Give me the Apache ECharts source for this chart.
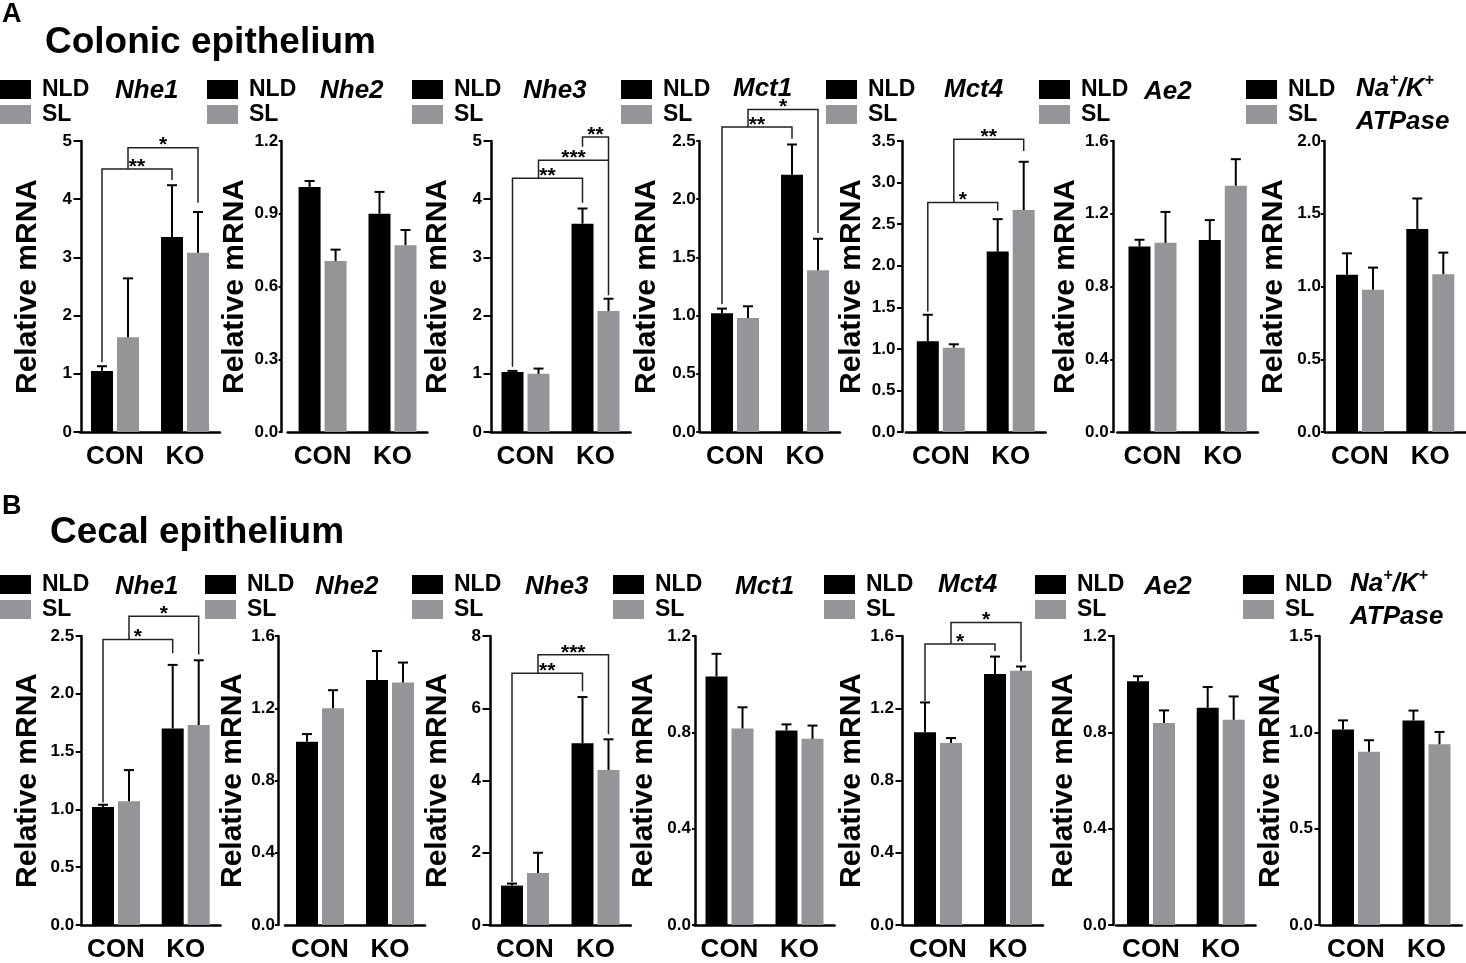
<!DOCTYPE html>
<html><head><meta charset="utf-8">
<script src="https://cdn.jsdelivr.net/npm/echarts@6/dist/echarts.min.js"></script>
<style>html,body{margin:0;padding:0;background:#fff}#c{width:1466px;height:963px}</style>
</head><body><div id="c"></div>
<script>
// ---------------- DATA ----------------
const categories = ['CON', 'KO'];
const seriesNames = ['NLD', 'SL'];
const genes = ['Nhe1', 'Nhe2', 'Nhe3', 'Mct1', 'Mct4', 'Ae2', 'Na+/K+ ATPase'];

// Colonic epithelium (panel A)
const colonicYMax  = [5, 1.2, 5, 2.5, 3.5, 1.6, 2.0];
const colonicYStep = [1, 0.3, 1, 0.5, 0.5, 0.4, 0.5];
const colonicNLD    = [[1.05, 3.35], [1.01, 0.90], [1.03, 3.58], [1.02, 2.21], [1.09, 2.17], [1.02, 1.055], [1.08, 1.395]];
const colonicNLDErr = [[0.08, 0.89], [0.025, 0.09], [0.02, 0.26], [0.04, 0.26], [0.32, 0.39], [0.037, 0.11], [0.148, 0.21]];
const colonicSL     = [[1.63, 3.08], [0.705, 0.77], [1.00, 2.08], [0.98, 1.39], [1.014, 2.67], [1.04, 1.354], [0.977, 1.085]];
const colonicSLErr  = [[1.01, 0.70], [0.047, 0.063], [0.09, 0.21], [0.10, 0.27], [0.041, 0.58], [0.17, 0.146], [0.153, 0.148]];
// significance brackets: [panel, fromBar, toBar, yTop, yLeftEnd, yRightEnd, label]; bars: 0 NLD-CON, 1 SL-CON, 2 NLD-KO, 3 SL-KO
const colonicBrackets = [
  [0, 0, 2, 4.52, 1.20, 4.33, '**'], [0, 1, 3, 4.885, 4.52, 3.94, '*'],
  [2, 0, 2, 4.36, 1.12, 3.94, '**'], [2, 1, 3, 4.67, 4.36, 2.35, '***'], [2, 2, 3, 5.07, 4.90, 4.67, '**'],
  [3, 0, 2, 2.62, 1.10, 2.52, '**'], [3, 1, 3, 2.77, 2.62, 1.71, '*'],
  [4, 0, 2, 2.76, 1.45, 2.66, '*'], [4, 1, 3, 3.52, 2.76, 3.38, '**']
];

// Cecal epithelium (panel B)
const cecalYMax  = [2.5, 1.6, 8, 1.2, 1.6, 1.2, 1.5];
const cecalYStep = [0.5, 0.4, 2, 0.4, 0.4, 0.4, 0.5];
const cecalNLD    = [[1.02, 1.70], [1.015, 1.357], [1.09, 5.03], [1.032, 0.808], [1.067, 1.389], [1.012, 0.902], [1.015, 1.062]];
const cecalNLDErr = [[0.02, 0.55], [0.042, 0.16], [0.057, 1.28], [0.094, 0.025], [0.165, 0.097], [0.021, 0.086], [0.047, 0.051]];
const cecalSL     = [[1.07, 1.73], [1.20, 1.342], [1.44, 4.29], [0.816, 0.773], [1.008, 1.407], [0.839, 0.852], [0.899, 0.938]];
const cecalSLErr  = [[0.27, 0.56], [0.10, 0.111], [0.56, 0.85], [0.088, 0.055], [0.027, 0.024], [0.052, 0.097], [0.06, 0.064]];
const cecalBrackets = [
  [0, 0, 2, 2.47, 1.06, 2.35, '*'], [0, 1, 3, 2.67, 2.47, 2.34, '*'],
  [2, 0, 2, 6.97, 1.19, 6.47, '**'], [2, 1, 3, 7.48, 6.97, 5.28, '***'],
  [4, 0, 2, 1.556, 1.24, 1.517, '*'], [4, 1, 3, 1.675, 1.556, 1.458, '*']
];

// ---------------- LAYOUT / STYLE ----------------
const FONT = '"Liberation Sans", Arial, Helvetica, sans-serif';
const BLACK = '#000000', GREY = '#939598';
const BAR_W = 22, BAR_GAP = 4;
const OFF = (BAR_W + BAR_GAP) / 2;
const NAME_FS = 30;

const layout = [
  { // colonic
    gridTop: 141, gridH: 291,
    axisX: [81, 281.7, 491, 699.3, 902.5, 1113.7, 1324],
    conX:  [115, 322.6, 525.5, 735, 940.8, 1152.5, 1360],
    koX:   [185, 392.5, 595.5, 805, 1010.7, 1222.8, 1430.3],
    nameX: [27.7, 234.7, 438, 647, 851.5, 1066, 1274],
    labelGap: [9, 3.5, 9, 3.5, 7, 5, 3],
    decimals: [0, 1, 0, 1, 1, 1, 1],
    legendX: [0, 207, 412, 621, 826, 1039, 1246], legendY: 78,
    geneX: [115, 320, 523, 733, 944, 1144, 1356], geneY: [91, 91, 91, 89, 90, 91.5, 89],
    letter: 'A', letterTop: 1, title: 'Colonic epithelium', titleX: 45, titleTop: 24
  },
  { // cecal
    gridTop: 636, gridH: 291,
    axisX: [81.7, 278, 490, 695, 902.5, 1113.7, 1319],
    conX:  [116, 320, 525, 729.5, 938, 1151, 1356],
    koX:   [185.7, 390, 595.5, 799.5, 1008, 1220.7, 1426.5],
    nameX: [28, 233.3, 438, 643.3, 852.5, 1067.5, 1271.5],
    labelGap: [7.5, 3, 9, 4, 8.5, 7, 6],
    decimals: [1, 1, 0, 1, 1, 1, 1],
    legendX: [0, 205, 412, 613, 824, 1035, 1243], legendY: 573,
    geneX: [115, 315, 525, 735, 938, 1144, 1350], geneY: [587, 587, 587, 587, 585, 587, 584],
    letter: 'B', letterTop: 493, title: 'Cecal epithelium', titleX: 50, titleTop: 514
  }
];

const rowsData = [
  { yMax: colonicYMax, yStep: colonicYStep, nld: colonicNLD, nldErr: colonicNLDErr, sl: colonicSL, slErr: colonicSLErr, brackets: colonicBrackets },
  { yMax: cecalYMax, yStep: cecalYStep, nld: cecalNLD, nldErr: cecalNLDErr, sl: cecalSL, slErr: cecalSLErr, brackets: cecalBrackets }
];

function barX(api, b) {
  const cat = Math.floor(b / 2);
  return api.coord([cat, 0])[0] + (b % 2 ? OFF : -OFF);
}

function errRender(params, api) {
  const cat = api.value(0), mean = api.value(1), err = api.value(2), side = api.value(3);
  const cx = api.coord([cat, 0])[0] + (side ? OFF : -OFF);
  const y0 = api.coord([cat, mean])[1];
  const y1 = api.coord([cat, mean + err])[1];
  return { type: 'group', children: [
    { type: 'line', shape: { x1: cx, y1: y0, x2: cx, y2: y1 }, style: { stroke: '#000', lineWidth: 2 } },
    { type: 'line', shape: { x1: cx - 5, y1: y1, x2: cx + 5, y2: y1 }, style: { stroke: '#000', lineWidth: 2 } }
  ]};
}

function makeBracketRender(labels) {
  return function (params, api) {
    const x1 = barX(api, api.value(0)), x2 = barX(api, api.value(1));
    const yt = api.coord([0, api.value(2)])[1];
    const yl = api.coord([0, api.value(3)])[1];
    const yr = api.coord([0, api.value(4)])[1];
    return { type: 'group', children: [
      { type: 'polyline', shape: { points: [[x1, yl], [x1, yt], [x2, yt], [x2, yr]] },
        style: { stroke: '#222', lineWidth: 1.5, fill: null } },
      { type: 'text', x: (x1 + x2) / 2, y: yt - 2,
        style: { text: labels[params.dataIndex], font: 'bold 21px ' + FONT, align: 'center', verticalAlign: 'middle', fill: '#000' } }
    ]};
  };
}

function geneText(g) {
  if (g === 'Na+/K+ ATPase') return '{n|Na}{s|+}{n|/K}{s|+}\n{n|ATPase}';
  return '{n|' + g + '}';
}

const grid = [], xAxis = [], yAxis = [], series = [], legend = [], title = [];

layout.forEach((L, r) => {
  const D = rowsData[r];
  title.push({ text: L.letter, left: 2, top: L.letterTop, padding: 0,
    textStyle: { fontFamily: FONT, fontSize: 27, fontWeight: 'bold', color: '#000', lineHeight: 27 } });
  title.push({ text: L.title, left: L.titleX, top: L.titleTop, padding: 0,
    textStyle: { fontFamily: FONT, fontSize: 37, fontWeight: 'bold', color: '#000', lineHeight: 37 } });

  for (let i = 0; i < 7; i++) {
    const g = r * 7 + i;
    const span = L.koX[i] - L.conX[i];
    const gl = L.conX[i] - span / 2;
    grid.push({ left: gl, top: L.gridTop, width: span * 2, height: L.gridH });
    xAxis.push({
      type: 'category', gridIndex: g, data: categories,
      axisLine: { lineStyle: { color: '#000', width: 2.5 } },
      axisTick: { alignWithLabel: true, length: 7, lineStyle: { color: '#000', width: 2.5 } },
      axisLabel: { interval: 0, hideOverlap: false, margin: 12, fontFamily: FONT, fontSize: 26, fontWeight: 'bold', color: '#000' },
      splitLine: { show: false }
    });
    const dec = L.decimals[i];
    const gap = L.labelGap[i];
    yAxis.push({
      type: 'value', gridIndex: g, min: 0, max: D.yMax[i], interval: D.yStep[i],
      offset: gl - L.axisX[i],
      name: 'Relative mRNA', nameLocation: 'middle',
      nameGap: L.axisX[i] - L.nameX[i] - NAME_FS / 2,
      nameTextStyle: { fontFamily: FONT, fontSize: NAME_FS, fontWeight: 'bold', color: '#000' },
      axisLine: { show: true, lineStyle: { color: '#000', width: 2.5 } },
      axisTick: { show: true, length: Math.max(gap - 1.5, 3), lineStyle: { color: '#000', width: 2 } },
      axisLabel: { margin: gap, fontFamily: FONT, fontSize: 17, fontWeight: 'bold', color: '#000',
        formatter: v => v.toFixed(dec) },
      splitLine: { show: false }
    });
    series.push({ type: 'bar', name: seriesNames[0], xAxisIndex: g, yAxisIndex: g, data: D.nld[i],
      barWidth: BAR_W, barGap: (BAR_GAP / BAR_W * 100) + '%', itemStyle: { color: BLACK }, silent: true });
    series.push({ type: 'bar', name: seriesNames[1], xAxisIndex: g, yAxisIndex: g, data: D.sl[i],
      barWidth: BAR_W, barGap: (BAR_GAP / BAR_W * 100) + '%', itemStyle: { color: GREY }, silent: true });
    const errData = [];
    for (let c = 0; c < 2; c++) errData.push([c, D.nld[i][c], D.nldErr[i][c], 0]);
    for (let c = 0; c < 2; c++) errData.push([c, D.sl[i][c], D.slErr[i][c], 1]);
    series.push({ type: 'custom', xAxisIndex: g, yAxisIndex: g, data: errData, renderItem: errRender,
      z: 5, silent: true, clip: false });
    const br = D.brackets.filter(b => b[0] === i);
    if (br.length) {
      series.push({ type: 'custom', xAxisIndex: g, yAxisIndex: g,
        data: br.map(b => [b[1], b[2], b[3], b[4], b[5]]),
        renderItem: makeBracketRender(br.map(b => b[6])), z: 6, silent: true, clip: false });
    }
    legend.push({
      orient: 'vertical', left: L.legendX[i], top: L.legendY, padding: 0,
      itemWidth: 31, itemHeight: 19, itemGap: 2, icon: 'rect', selectedMode: false,
      data: seriesNames,
      textStyle: { fontFamily: FONT, fontSize: 23, fontWeight: 'bold', color: '#000', lineHeight: 23, padding: [0, 0, 0, 6] }
    });
    title.push({
      text: geneText(genes[i]), left: L.geneX[i], top: L.geneY[i] - 16.5, padding: 0,
      textStyle: {
        rich: {
          n: { fontFamily: FONT, fontSize: 26, fontWeight: 'bold', fontStyle: 'italic', color: '#000', lineHeight: 33 },
          s: { fontFamily: FONT, fontSize: 16, fontWeight: 'bold', fontStyle: 'italic', color: '#000', lineHeight: 18, verticalAlign: 'top' }
        }
      }
    });
  }
});

const chart = echarts.init(document.getElementById('c'), null, { renderer: 'canvas' });
chart.setOption({
  animation: false, backgroundColor: '#fff',
  title, grid, xAxis, yAxis, series, legend
});
</script>
</body></html>
